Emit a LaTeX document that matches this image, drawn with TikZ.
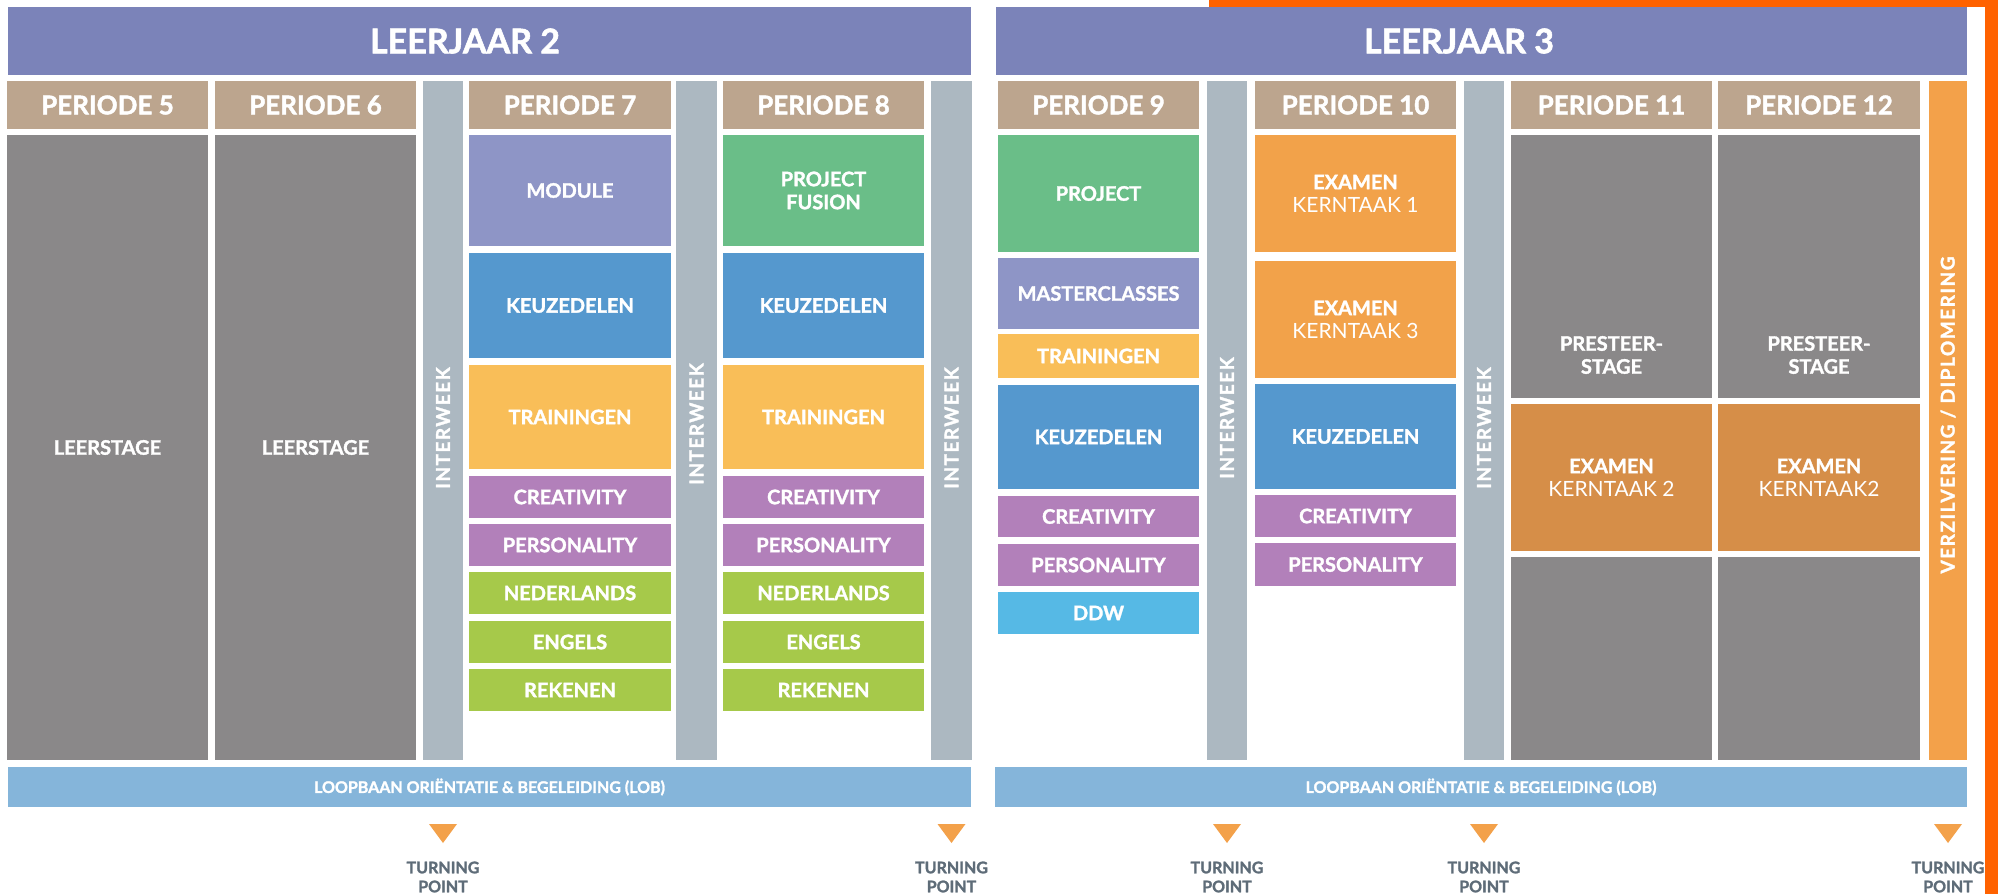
\documentclass[tikz,border=0pt]{standalone}
\usepackage{fontspec}
\setmainfont{Lato}[BoldFeatures={FakeBold=1.6}]
\definecolor{hdrcol}{HTML}{7B83B9}
\definecolor{percol}{HTML}{BCA58E}
\definecolor{graycol}{HTML}{8A8889}
\definecolor{iwcol}{HTML}{ACB8C1}
\definecolor{modcol}{HTML}{8E95C6}
\definecolor{keucol}{HTML}{5598CE}
\definecolor{traincol}{HTML}{F9BE58}
\definecolor{purpcol}{HTML}{B280BA}
\definecolor{limecol}{HTML}{A6C94A}
\definecolor{projcol}{HTML}{6ABE88}
\definecolor{ddwcol}{HTML}{56B9E5}
\definecolor{examcol}{HTML}{F2A24A}
\definecolor{exam2col}{HTML}{D68E48}
\definecolor{vdcol}{HTML}{F3A14A}
\definecolor{lobcol}{HTML}{85B5DA}
\definecolor{tpcol}{HTML}{5E6C78}
\definecolor{framecol}{HTML}{FF6200}
\newcommand\mycell[8][]{%
  \pgfmathsetmacro\cellw{(#5-#3)*0.5}%
  \pgfmathsetmacro\cellh{(#6-#4)*0.5}%
  \node[cellbox, fill=#7, minimum width=\cellw pt, minimum height=\cellh pt, #1] (#2) at ({(#3+#5)/2},{(#4+#6)/2}) {#8};}
\newcommand\mytp[2]{%
  \fill[vdcol] (#2-14,824) -- (#2+14,824) -- (#2,843) -- cycle;
  \node[tptext] (#1) at (#2,877) {TURNING\\POINT};}
\newcommand\ktline[1]{{\mdseries\fontsize{10.5}{11.5}\selectfont #1}}
\begin{document}
\begin{tikzpicture}[x=0.5pt,y=-0.5pt,
  cellbox/.style={rectangle, inner sep=0pt, outer sep=0pt, text=white, align=center,
    font=\bfseries\fontsize{10}{11.5}\selectfont},
  hdrtext/.style={text=white, font=\bfseries\fontsize{17}{20}\selectfont},
  pertext/.style={font=\bfseries\fontsize{13}{15}\selectfont},
  iwtext/.style={text=white, rotate=90, font=\bfseries\fontsize{9.5}{11}\selectfont\addfontfeature{LetterSpace=8}},
  lobtext/.style={text=white, font=\bfseries\fontsize{8}{9}\selectfont},
  tptext/.style={text=tpcol, align=center, font=\bfseries\fontsize{8}{9.5}\selectfont}]
\useasboundingbox (0,0) rectangle (1998,894);
\fill[white] (0,0) rectangle (1998,894);
% year headers
\mycell{lj2}{8}{7}{971}{75}{hdrcol}{}
\mycell{lj3}{996}{7}{1967}{75}{hdrcol}{}
\node[hdrtext] (lj2t) at (465,41) {LEERJAAR 2};
\node[hdrtext] (lj3t) at (1459,41) {LEERJAAR 3};
% period headers
\mycell[pertext]{p5}{7}{81}{208}{129}{percol}{PERIODE 5}
\mycell[pertext]{p6}{215}{81}{416}{129}{percol}{PERIODE 6}
\mycell[pertext]{p7}{469}{81}{671}{129}{percol}{PERIODE 7}
\mycell[pertext]{p8}{723}{81}{924}{129}{percol}{PERIODE 8}
\mycell[pertext]{p9}{998}{81}{1199}{129}{percol}{PERIODE 9}
\mycell[pertext]{p10}{1255}{81}{1456}{129}{percol}{PERIODE 10}
\mycell[pertext]{p11}{1511}{81}{1712}{129}{percol}{PERIODE 11}
\mycell[pertext]{p12}{1718}{81}{1920}{129}{percol}{PERIODE 12}
% interweeks
\mycell{iw1}{423}{81}{463}{760}{iwcol}{}
\mycell{iw2}{676}{81}{717}{760}{iwcol}{}
\mycell{iw3}{931}{81}{972}{760}{iwcol}{}
\mycell{iw4}{1207}{81}{1247}{760}{iwcol}{}
\mycell{iw5}{1464}{81}{1504}{760}{iwcol}{}
\node[iwtext] (iw1t) at (443,428) {INTERWEEK};
\node[iwtext] (iw2t) at (696.5,424) {INTERWEEK};
\node[iwtext] (iw3t) at (951.5,428) {INTERWEEK};
\node[iwtext] (iw4t) at (1227,418) {INTERWEEK};
\node[iwtext] (iw5t) at (1484,428) {INTERWEEK};
\mycell{vd}{1929}{81}{1967}{760}{vdcol}{}
\node[iwtext] (vdt) at (1948,415) {VERZILVERING / DIPLOMERING};
% periode 5, 6
\mycell{ls5}{7}{135}{208}{760}{graycol}{LEERSTAGE}
\mycell{ls6}{215}{135}{416}{760}{graycol}{LEERSTAGE}
% periode 7
\mycell{mod7}{469}{135}{671}{246}{modcol}{MODULE}
\mycell{keu7}{469}{253}{671}{358}{keucol}{KEUZEDELEN}
\mycell{tr7}{469}{365}{671}{469}{traincol}{TRAININGEN}
\mycell{cr7}{469}{476}{671}{518}{purpcol}{CREATIVITY}
\mycell{pe7}{469}{524}{671}{566}{purpcol}{PERSONALITY}
\mycell{ne7}{469}{572}{671}{614}{limecol}{NEDERLANDS}
\mycell{en7}{469}{621}{671}{663}{limecol}{ENGELS}
\mycell{re7}{469}{669}{671}{711}{limecol}{REKENEN}
% periode 8
\mycell{pf8}{723}{135}{924}{246}{projcol}{PROJECT\\FUSION}
\mycell{keu8}{723}{253}{924}{358}{keucol}{KEUZEDELEN}
\mycell{tr8}{723}{365}{924}{469}{traincol}{TRAININGEN}
\mycell{cr8}{723}{476}{924}{518}{purpcol}{CREATIVITY}
\mycell{pe8}{723}{524}{924}{566}{purpcol}{PERSONALITY}
\mycell{ne8}{723}{572}{924}{614}{limecol}{NEDERLANDS}
\mycell{en8}{723}{621}{924}{663}{limecol}{ENGELS}
\mycell{re8}{723}{669}{924}{711}{limecol}{REKENEN}
% periode 9
\mycell{pr9}{998}{135}{1199}{252}{projcol}{PROJECT}
\mycell{ma9}{998}{258}{1199}{329}{modcol}{MASTERCLASSES}
\mycell{tr9}{998}{334}{1199}{378}{traincol}{TRAININGEN}
\mycell{keu9}{998}{385}{1199}{489}{keucol}{KEUZEDELEN}
\mycell{cr9}{998}{496}{1199}{537}{purpcol}{CREATIVITY}
\mycell{pe9}{998}{544}{1199}{586}{purpcol}{PERSONALITY}
\mycell{dd9}{998}{592}{1199}{634}{ddwcol}{DDW}
% periode 10
\mycell{ex1}{1255}{135}{1456}{252}{examcol}{EXAMEN\\\ktline{KERNTAAK 1}}
\mycell{ex3}{1255}{261}{1456}{378}{examcol}{EXAMEN\\\ktline{KERNTAAK 3}}
\mycell{keu10}{1255}{384}{1456}{489}{keucol}{KEUZEDELEN}
\mycell{cr10}{1255}{495}{1456}{537}{purpcol}{CREATIVITY}
\mycell{pe10}{1255}{543}{1456}{586}{purpcol}{PERSONALITY}
% periode 11, 12
\mycell{st11}{1511}{135}{1712}{398}{graycol}{}
\mycell{ex11}{1511}{404}{1712}{551}{exam2col}{EXAMEN\\\ktline{KERNTAAK 2}}
\mycell{sb11}{1511}{557}{1712}{760}{graycol}{}
\mycell{st12}{1718}{135}{1920}{398}{graycol}{}
\mycell{ex12}{1718}{404}{1920}{551}{exam2col}{EXAMEN\\\ktline{KERNTAAK2}}
\mycell{sb12}{1718}{557}{1920}{760}{graycol}{}
\node[cellbox] (st11t) at (1611.5,355) {PRESTEER-\\STAGE};
\node[cellbox] (st12t) at (1819,355) {PRESTEER-\\STAGE};
% LOB
\mycell{lob1}{8}{767}{971}{807}{lobcol}{}
\mycell{lob2}{995}{767}{1967}{807}{lobcol}{}
\node[lobtext] (lob1t) at (489.5,787) {LOOPBAAN ORIËNTATIE \& BEGELEIDING (LOB)};
\node[lobtext] (lob2t) at (1481,787) {LOOPBAAN ORIËNTATIE \& BEGELEIDING (LOB)};
% turning points
\mytp{tp1}{443}
\mytp{tp2}{951.5}
\mytp{tp3}{1227}
\mytp{tp4}{1484}
\mytp{tp5}{1948}
% orange frame
\fill[framecol] (1209,0) rectangle (1998,7);
\fill[framecol] (1985,0) rectangle (1998,894);
\end{tikzpicture}
\end{document}
